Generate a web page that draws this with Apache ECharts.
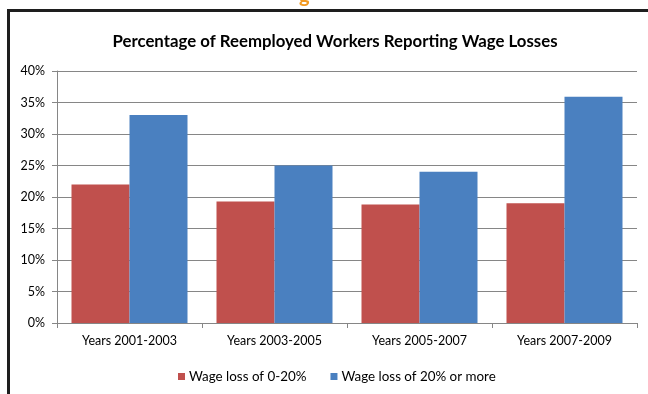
<!DOCTYPE html>
<html>
<head>
<meta charset="utf-8">
<script src="https://cdn.jsdelivr.net/npm/echarts@6/dist/echarts.min.js"></script>
<style>
html,body{margin:0;padding:0;background:#fff;}
#chart{width:648px;height:394px;}
</style>
</head>
<body>
<div id="chart"></div>
<script>
var categories = ["Years 2001-2003", "Years 2003-2005", "Years 2005-2007", "Years 2007-2009"];
var seriesNames = ["Wage loss of 0-20%", "Wage loss of 20% or more"];
var lossSmall = [22.0, 19.3, 18.8, 19.0];
var lossLarge = [33.0, 25.0, 24.0, 35.9];
var yTicks = [0, 5, 10, 15, 20, 25, 30, 35, 40];

var chart = echarts.init(document.getElementById('chart'));
var font = 'Lato, "Open Sans", sans-serif';
chart.setOption({
  animation: false,
  backgroundColor: '#fff',
  title: {
    text: 'Percentage of Reemployed Workers Reporting Wage Losses',
    left: 330, top: 28, textAlign: 'center',
    textStyle: {fontFamily: font, fontSize: 16.8, fontWeight: 'bold', color: '#000'}
  },
  graphic: [
    {type: 'rect', z: -1, silent: true,
     shape: {x: 8.5, y: 10.5, width: 660, height: 400},
     style: {fill: '#fff', stroke: '#1e1e1e', lineWidth: 3}},
    {type: 'text', left: 299, top: -14, silent: true,
     style: {text: 'g', fill: '#F39A22', font: 'bold 20px ' + font}}
  ],
  legend: {
    data: seriesNames,
    bottom: 11, left: 178, padding: 0,
    itemWidth: 7, itemHeight: 7, itemGap: 24,
    icon: 'rect',
    textStyle: {fontFamily: font, fontSize: 13.4, color: '#000', padding: [0, 0, 0, -1]}
  },
  grid: {left: 57, right: 11, top: 71, bottom: 71, containLabel: false},
  xAxis: {
    type: 'category',
    data: categories,
    axisLine: {lineStyle: {color: '#868686'}},
    axisTick: {show: true, alignWithLabel: false, length: 5, lineStyle: {color: '#868686'}},
    axisLabel: {fontFamily: font, fontSize: 12.5, color: '#000', margin: 11}
  },
  yAxis: {
    type: 'value',
    min: yTicks[0], max: yTicks[yTicks.length - 1], interval: 5,
    axisLine: {show: true, lineStyle: {color: '#868686'}},
    axisTick: {show: true, length: 5, lineStyle: {color: '#868686'}},
    splitLine: {lineStyle: {color: '#868686'}},
    axisLabel: {fontFamily: font, fontSize: 12.5, color: '#000', margin: 12,
      formatter: function (v) { return v + '%'; }}
  },
  series: [
    {name: seriesNames[0], type: 'bar', data: lossSmall, barGap: '0%', barCategoryGap: '20%',
     itemStyle: {color: '#C0504D'}},
    {name: seriesNames[1], type: 'bar', data: lossLarge, barGap: '0%', barCategoryGap: '20%',
     itemStyle: {color: '#4A80C0'}}
  ]
});
</script>
</body>
</html>
